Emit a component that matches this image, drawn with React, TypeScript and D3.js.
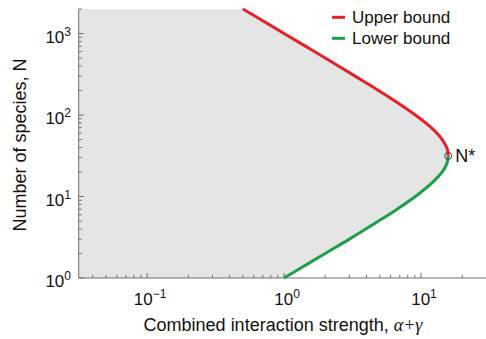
import React from "react";
import * as d3 from "d3";

// values: N along each bound and the combined strength alpha+gamma
const lowerN = [1, 1.5, 2, 3, 5, 7, 10, 15, 20, 25, 28, 31.6];
const lowerStrength = [1.0, 1.5, 2.0, 3.0, 4.9, 6.7, 9.1, 12.2, 14.3, 15.4, 15.7, 15.8];
const upperN = [31.6, 36, 40, 50, 70, 100, 150, 200, 300, 500, 700, 1000, 1500, 2000];
const upperStrength = [15.8, 15.7, 15.4, 14.3, 11.9, 9.1, 6.4, 4.9, 3.3, 2.0, 1.43, 1.0, 0.67, 0.5];
const critical = { n: 31.6, s: 15.8 };
const legendItems = ["Upper bound", "Lower bound"];

const W = 486;
const H = 339;
const font = "'Liberation Sans', Arial, Helvetica, sans-serif";
const RED = "#e8202a";
const GREEN = "#1d9e48";

const App = () => {
  const x = d3.scaleLog().domain([Math.pow(10, -1.5), 30]).range([78.7, 486.3]);
  const y = d3.scaleLog().domain([1, 2000]).range([278, 9]);

  const lower = lowerN.map((n, i) => ({ n, s: lowerStrength[i] }));
  const upper = upperN.map((n, i) => ({ n, s: upperStrength[i] }));
  const both = lower.concat(upper.slice(1));

  const line = d3
    .line<{ n: number; s: number }>()
    .x(d => x(d.s))
    .y(d => y(d.n))
    .curve(d3.curveCatmullRom.alpha(0.5));

  const area = d3
    .area<{ n: number; s: number }>()
    .x0(x.range()[0])
    .x1(d => x(d.s))
    .y(d => y(d.n))
    .curve(d3.curveCatmullRom.alpha(0.5));

  const xTicks = x.ticks().filter(t => x(t) >= 78 && x(t) <= 486);
  const yTicks = y.ticks();
  const isMajor = (t: number) => Math.abs(Math.log10(t) - Math.round(Math.log10(t))) < 1e-9;
  const axisColor = "#6e6e6e";

  return (
    <svg width={W} height={H} style={{ position: "absolute", left: 0, top: 0 }} fontFamily={font}>
      <rect width={W} height={H} fill="white" />
      <path d={area(both) || ""} fill="#e5e5e5" />

      {/* axes */}
      <line x1={78.7} x2={486} y1={278} y2={278} stroke={axisColor} />
      <line x1={78.7} x2={78.7} y1={9} y2={278} stroke={axisColor} />
      {xTicks.map((t, i) => (
        <line key={"xt" + i} x1={x(t)} x2={x(t)} y1={278} y2={278 - (isMajor(t) ? 5 : 3)} stroke={axisColor} />
      ))}
      {yTicks.map((t, i) => (
        <line key={"yt" + i} x1={78.7} x2={78.7 + (isMajor(t) ? 5 : 3)} y1={y(t)} y2={y(t)} stroke={axisColor} />
      ))}
      {xTicks.filter(isMajor).map((t, i) => {
        const e = Math.round(Math.log10(t));
        return (
          <text key={"xl" + i} x={x(t) + 3} y={305} textAnchor="middle" fontSize={17} fill="#111">
            10<tspan dy={-7} fontSize={12}>{e < 0 ? "\u2212" + Math.abs(e) : e}</tspan>
          </text>
        );
      })}
      {yTicks.filter(isMajor).map((t, i) => {
        const e = Math.round(Math.log10(t));
        return (
          <text key={"yl" + i} x={71} y={y(t) + 9} textAnchor="end" fontSize={17} fill="#111">
            10<tspan dy={-7} fontSize={12}>{e}</tspan>
          </text>
        );
      })}

      {/* axis titles */}
      <text x={283} y={331} textAnchor="middle" fontSize={18} fill="#111">
        Combined interaction strength,{" "}
        <tspan fontFamily="'Liberation Serif', 'Times New Roman', serif" fontStyle="italic">
          {"\u03b1+\u03b3"}
        </tspan>
      </text>
      <text transform="translate(26,145) rotate(-90)" textAnchor="middle" fontSize={18} fill="#111">
        Number of species, N
      </text>

      {/* bounds */}
      <path d={line(lower) || ""} fill="none" stroke={GREEN} strokeWidth={3} />
      <path d={line(upper) || ""} fill="none" stroke={RED} strokeWidth={3} />
      <circle cx={x(critical.s)} cy={y(critical.n)} r={3.5} fill="none" stroke="#444" strokeWidth={1} />
      <text x={x(critical.s) + 7} y={y(critical.n) + 6.5} fontSize={18} fill="#111">
        N*
      </text>

      {/* legend */}
      {legendItems.map((label, i) => (
        <g key={label} transform={`translate(332, ${17.3 + i * 21})`}>
          <line x1={0} x2={13} y1={0} y2={0} stroke={i === 0 ? RED : GREEN} strokeWidth={3} />
          <text x={20} y={6} fontSize={17} fill="#111">
            {label}
          </text>
        </g>
      ))}
    </svg>
  );
};

export default App;
